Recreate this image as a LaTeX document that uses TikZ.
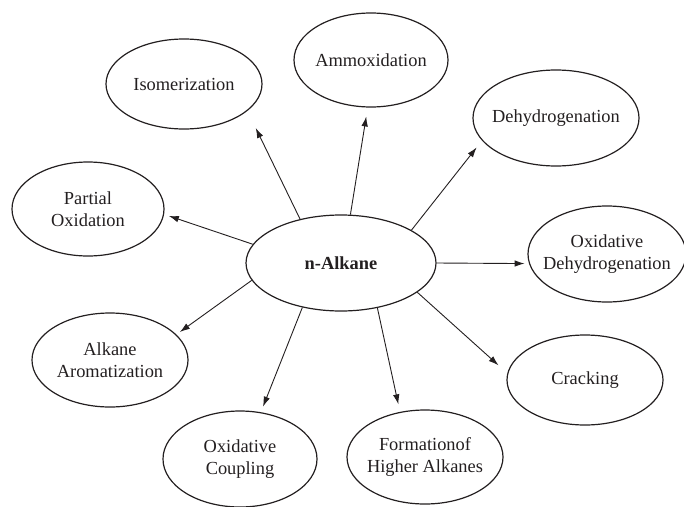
\documentclass[tikz,border=0pt]{standalone}
\usepackage{fontspec}
\setmainfont{Liberation Serif}
\usetikzlibrary{shapes.geometric,arrows.meta}
\definecolor{ink}{HTML}{231F20}
\begin{document}
\begin{tikzpicture}[x=1pt,y=-1pt,
  proc/.style n args={2}{draw=ink, ellipse, line width=1.2pt, inner sep=0pt, minimum width=#1pt, minimum height=#2pt},
  txt/.style={align=center, text=ink, font=\fontsize{18.4}{22}\selectfont, inner sep=0pt},
  btxt/.style={align=center, text=ink, font=\fontsize{18.4}{22}\selectfont\bfseries, inner sep=0pt},
  arr/.style={draw=ink, line width=0.9pt, -{Latex[length=10pt,width=6.5pt]}}]
\useasboundingbox (0,0) rectangle (684,506);
\node[proc={190}{96}, label={[btxt]center:n-Alkane}] (n) at (341,263) {};
\node[proc={156}{90}, label={[txt]center:Isomerization}] (iso) at (184,84) {};
\node[proc={154}{94}, label={[txt]center:Ammoxidation}] (amm) at (371,60) {};
\node[proc={166}{96}, label={[txt]center:Dehydrogenation}] (dehy) at (556,118) {};
\node[proc={158}{96}, label={[txt]center:Oxidative\\Dehydrogenation}] (oxd) at (607,254) {};
\node[proc={156}{90}, label={[txt]center:Cracking}] (crk) at (585,380) {};
\node[proc={156}{94}, label={[txt]center:Formationof\\Higher Alkanes}] (form) at (425,457) {};
\node[proc={154}{96}, label={[txt]center:Oxidative\\Coupling}] (coup) at (240,459) {};
\node[proc={156}{94}, label={[txt]center:Alkane\\Aromatization}] (arom) at (110,360) {};
\node[proc={152}{94}, label={[txt]center:Partial\\Oxidation}] (part) at (88,209) {};
\draw[arr, shorten >=19pt] (n.133.7) -- (iso.-23.1);
\draw[arr, shorten >=9pt] (n.79.4) -- (amm.-94.3);
\draw[arr, shorten >=8.7pt] (n.25.6) -- (dehy.-163.2);
\draw[arr, shorten >=4.4pt] (n.0) -- (oxd.-173.4);
\draw[arr, shorten >=11.8pt] (n.-21.3) -- (crk.175.5);
\draw[arr, shorten >=7.7pt] (n.-51.8) -- (form.119.7);
\draw[arr, shorten >=6pt] (n.-131.8) -- (coup.66.8);
\draw[arr, shorten >=4.3pt] (n.191.4) -- (arom.21.3);
\draw[arr, shorten >=5pt] (n.168.6) -- (part.-4.9);
\end{tikzpicture}
\end{document}
